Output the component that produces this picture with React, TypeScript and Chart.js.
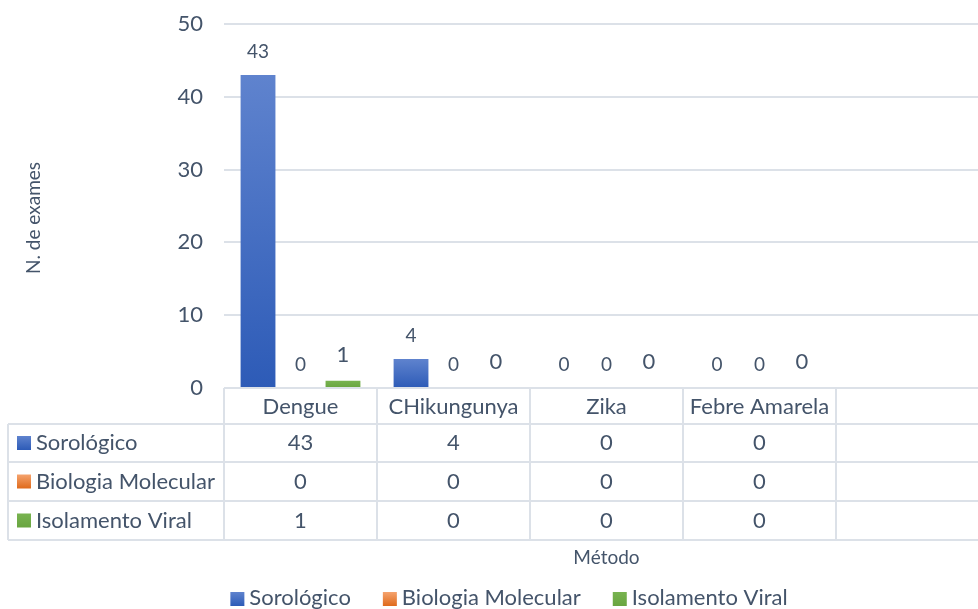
import React, { useEffect, useRef } from "react";
import { Chart, registerables } from "chart.js";

Chart.register(...registerables);

const categories = ["Dengue", "CHikungunya", "Zika", "Febre Amarela"];
const columns = [...categories, ""];
const seriesNames = ["Sorológico", "Biologia Molecular", "Isolamento Viral"];
const sorologico = [43, 4, 0, 0];
const biologiaMolecular = [0, 0, 0, 0];
const isolamentoViral = [1, 0, 0, 0];
const seriesValues = [sorologico, biologiaMolecular, isolamentoViral];
const yTicks = [0, 10, 20, 30, 40, 50];
const yTitle = "N. de exames";
const xTitle = "Método";

const FONT = "Lato, 'Open Sans', sans-serif";
const TEXT = "#44546A";
const LINE = "#DCE1E8";
const palettes = [
  ["#5F83CE", "#4472C4", "#2D5BB7"],
  ["#F5A36E", "#ED7D31", "#DF6A1B"],
  ["#78B350", "#70AD47", "#69A540"],
];
const labelFont = [19, 19, 22];
const labelGap = [23, 23, 26];

function barFill(colors: string[]) {
  return (c: any) => {
    const chart = c.chart;
    const ys = chart.scales && chart.scales.y;
    if (c.type !== "data" || !ys || !chart.chartArea) return colors[1];
    const top = ys.getPixelForValue(c.raw);
    const base = ys.getPixelForValue(0);
    if (!isFinite(top) || !isFinite(base) || base - top < 1) return colors[1];
    const g = chart.ctx.createLinearGradient(0, top, 0, base);
    g.addColorStop(0, colors[0]);
    g.addColorStop(1, colors[2]);
    return g;
  };
}

function swatch(ctx: CanvasRenderingContext2D, x: number, y: number, s: number, colors: string[]) {
  const g = ctx.createLinearGradient(0, y, 0, y + s);
  g.addColorStop(0, colors[0]);
  g.addColorStop(1, colors[2]);
  ctx.fillStyle = g;
  ctx.fillRect(x, y, s, s);
}

const labelsPlugin = {
  id: "barLabels",
  afterDatasetsDraw(chart: any) {
    const ctx = chart.ctx;
    ctx.save();
    ctx.fillStyle = TEXT;
    ctx.textAlign = "center";
    ctx.textBaseline = "middle";
    chart.data.datasets.forEach((ds: any, di: number) => {
      const meta = chart.getDatasetMeta(di);
      ctx.font = `${labelFont[di]}px ${FONT}`;
      meta.data.forEach((el: any, i: number) => {
        const v = ds.data[i];
        if (v === undefined || v === null) return;
        ctx.fillText(String(v), el.x, el.y - labelGap[di]);
      });
    });
    ctx.restore();
  },
};

const tablePlugin = {
  id: "dataTable",
  afterDraw(chart: any) {
    const ctx = chart.ctx;
    const xs = chart.scales.x;
    const n = columns.length;
    const cw = (xs.right - xs.left) / n;
    const top = chart.chartArea.bottom;
    const rows = [0, 36, 74, 113, 152].map((d) => top + d);
    const leftEdge = 8;
    const right = chart.width;
    ctx.save();
    ctx.strokeStyle = LINE;
    ctx.lineWidth = 2;
    ctx.beginPath();
    ctx.moveTo(xs.left, rows[0]);
    ctx.lineTo(right, rows[0]);
    for (let r = 1; r < rows.length; r++) {
      ctx.moveTo(leftEdge, rows[r]);
      ctx.lineTo(right, rows[r]);
    }
    ctx.moveTo(leftEdge, rows[1]);
    ctx.lineTo(leftEdge, rows[rows.length - 1]);
    for (let i = 0; i <= n; i++) {
      const bx = xs.left + i * cw;
      ctx.moveTo(bx, rows[0]);
      ctx.lineTo(bx, rows[rows.length - 1]);
    }
    ctx.stroke();

    ctx.fillStyle = TEXT;
    ctx.font = `22px ${FONT}`;
    ctx.textBaseline = "middle";
    ctx.textAlign = "center";
    columns.forEach((c, i) => {
      const cx = xs.getPixelForValue(i);
      ctx.fillText(c, cx, (rows[0] + rows[1]) / 2 + 1);
    });
    seriesNames.forEach((name, si) => {
      const cy = (rows[si + 1] + rows[si + 2]) / 2;
      swatch(ctx, 17, cy - 7, 14, palettes[si]);
      ctx.fillStyle = TEXT;
      ctx.textAlign = "left";
      ctx.fillText(name, 36, cy);
      ctx.textAlign = "center";
      seriesValues[si].forEach((v, i) => {
        ctx.fillText(String(v), xs.getPixelForValue(i), cy);
      });
    });

    // axis titles
    ctx.font = `19px ${FONT}`;
    ctx.fillText(xTitle, (xs.left + xs.right) / 2, 558);
    ctx.save();
    ctx.translate(34, 218);
    ctx.rotate(-Math.PI / 2);
    ctx.fillText(yTitle, 0, 0);
    ctx.restore();

    // legend
    ctx.font = `22px ${FONT}`;
    const sq = 14;
    const gapIn = 5;
    const gapOut = 32;
    const widths = seriesNames.map((s) => ctx.measureText(s).width);
    const total = widths.reduce((a, w) => a + sq + gapIn + w, 0) + gapOut * (seriesNames.length - 1);
    let lx = 509 - total / 2;
    const ly = 598;
    seriesNames.forEach((s, i) => {
      swatch(ctx, lx, ly - 6, sq, palettes[i]);
      lx += sq + gapIn;
      ctx.fillStyle = TEXT;
      ctx.textAlign = "left";
      ctx.fillText(s, lx, ly);
      lx += widths[i] + gapOut;
    });
    ctx.restore();
  },
};

export default function App() {
  const ref = useRef<HTMLCanvasElement>(null);
  useEffect(() => {
    if (!ref.current) return;
    const chart = new Chart(ref.current, {
      type: "bar",
      data: {
        labels: columns,
        datasets: seriesNames.map((name, i) => ({
          label: name,
          data: seriesValues[i],
          backgroundColor: barFill(palettes[i]),
          borderWidth: 0,
          categoryPercentage: 0.833,
          barPercentage: 0.82,
        })),
      },
      options: {
        responsive: false,
        animation: false,
        devicePixelRatio: 1,
        layout: { padding: { left: 0, top: 24, right: 11, bottom: 221 } },
        plugins: { legend: { display: false }, tooltip: { enabled: false } },
        scales: {
          x: { display: false },
          y: {
            min: yTicks[0],
            max: yTicks[yTicks.length - 1],
            afterFit: (s: any) => {
              s.width = 224;
            },
            afterBuildTicks: (s: any) => {
              s.ticks = yTicks.map((v) => ({ value: v }));
            },
            ticks: {
              color: TEXT,
              font: { family: FONT, size: 22 },
              padding: 0,
            },
            grid: {
              color: LINE,
              lineWidth: 2,
              drawTicks: true,
              tickLength: 21,
              tickColor: "rgba(0,0,0,0)",
            },
            border: { display: false },
            title: { display: false },
          },
        },
      },
      plugins: [labelsPlugin, tablePlugin],
    });
    return () => chart.destroy();
  }, []);
  return (
    <div style={{ position: "fixed", left: 0, top: 0, width: 978, height: 609, overflow: "hidden", background: "#fff" }}>
      <canvas ref={ref} width={1000} height={609} style={{ display: "block", width: 1000, height: 609 }} />
    </div>
  );
}
